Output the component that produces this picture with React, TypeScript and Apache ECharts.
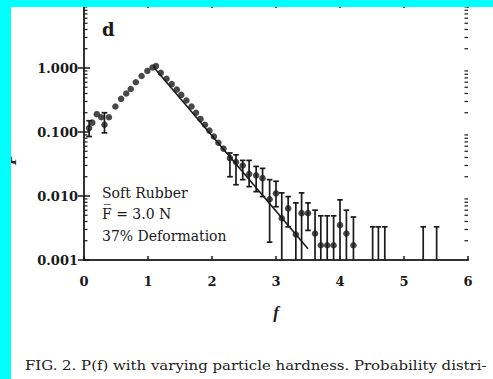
import React, { useEffect, useRef } from "react";
import * as echarts from "echarts";

// ---- data ----
const pointF = [
  0.08, 0.13, 0.2, 0.27, 0.32, 0.39, 0.49, 0.58, 0.66, 0.73, 0.81, 0.9, 0.99, 1.07, 1.125,
  1.2, 1.29, 1.37, 1.45, 1.52, 1.6, 1.68, 1.75, 1.82, 1.89, 1.96, 2.03, 2.1, 2.18,
];
const pointP = [
  0.115, 0.14, 0.19, 0.17, 0.13, 0.17, 0.25, 0.33, 0.4, 0.47, 0.6, 0.75, 0.9, 1.02, 1.07,
  0.84, 0.68, 0.56, 0.46, 0.38, 0.31, 0.25, 0.2, 0.16, 0.13, 0.105, 0.085, 0.068, 0.055,
];

// small error bars visible on the rising side
const riseErrF = [0.08, 0.32];
const riseErrLow = [0.085, 0.097];
const riseErrHigh = [0.15, 0.2];

const tailF = [2.28, 2.375, 2.48, 2.58, 2.69, 2.79, 2.9, 3.0, 3.09, 3.19, 3.31, 3.4, 3.5, 3.61, 3.7, 3.8, 3.9, 4.0, 4.1, 4.21];
const tailP = [0.039, 0.034, 0.03, 0.022, 0.021, 0.019, 0.0089, 0.011, 0.0045, 0.0064, 0.0025, 0.0054, 0.0054, 0.0026, 0.0017, 0.0017, 0.0017, 0.0035, 0.0026, 0.0017];
const tailLow = [0.02, 0.015, 0.018, 0.014, 0.0117, 0.0098, 0.0019, 0.0068, 0.0005, 0.0033, 0.0005, 0.0005, 0.0029, 0.0005, 0.0005, 0.0005, 0.0005, 0.0005, 0.0005, 0.0005];
const tailHigh = [0.047, 0.044, 0.036, 0.036, 0.029, 0.027, 0.018, 0.017, 0.0112, 0.0098, 0.0078, 0.0112, 0.0078, 0.006, 0.0049, 0.0049, 0.0049, 0.0087, 0.006, 0.0047];

// error bars whose centre lies below the axis
const emptyF = [4.51, 4.6, 4.7, 5.3, 5.51];
const emptyLow = [0.0005, 0.0005, 0.0005, 0.0005, 0.0005];
const emptyHigh = [0.0033, 0.0033, 0.0033, 0.0033, 0.0033];

// exponential fit line end points
const fitF = [1.1, 3.5];
const fitP = [1.0, 0.0015];

const xTicks = [0, 1, 2, 3, 4, 5, 6];
const yMin = 0.001;
const yMax = 10;

const minorTicks: number[] = [];
for (let e = -3; e < 1; e++) {
  for (let m = 2; m <= 9; m++) minorTicks.push(m * Math.pow(10, e));
}

const INK = "#1a1a1a";
const SERIF = "DejaVu Serif";

export default function App() {
  const ref = useRef<HTMLDivElement>(null);
  useEffect(() => {
    if (!ref.current) return;
    const chart = echarts.init(ref.current, undefined, { renderer: "svg" });

    const clamp = (v: number) => Math.min(yMax, Math.max(yMin, v));

    const errData = [
      ...riseErrF.map((f, i) => [f, riseErrLow[i], riseErrHigh[i]]),
      ...tailF.map((f, i) => [f, tailLow[i], tailHigh[i]]),
      ...emptyF.map((f, i) => [f, emptyLow[i], emptyHigh[i]]),
    ];

    const option: any = {
      animation: false,
      backgroundColor: "#ffffff",
      grid: { left: 84, top: 4, right: 25, bottom: 119, containLabel: false },
      xAxis: [
        {
          type: "value",
          min: xTicks[0],
          max: xTicks[xTicks.length - 1],
          interval: 1,
          position: "bottom",
          axisLine: { show: true, lineStyle: { color: "#333", width: 2 } },
          axisTick: { show: true, inside: true, length: 4, lineStyle: { color: INK, width: 1.5 } },
          axisLabel: { margin: 15, fontFamily: SERIF, fontSize: 13, fontWeight: "bold", color: INK },
          splitLine: { show: false },
          name: "f",
          nameLocation: "middle",
          nameGap: 44,
          nameTextStyle: { fontFamily: "Liberation Serif", fontStyle: "italic", fontWeight: "bold", fontSize: 17, color: INK },
        },
        {
          type: "value",
          min: xTicks[0],
          max: xTicks[xTicks.length - 1],
          interval: 1,
          position: "top",
          axisLine: { show: true, lineStyle: { color: "#333", width: 2 } },
          axisTick: { show: true, inside: true, length: 4, lineStyle: { color: INK, width: 1.5 } },
          axisLabel: { show: false },
          splitLine: { show: false },
        },
      ],
      yAxis: [
        {
          type: "log",
          logBase: 10,
          min: yMin,
          max: yMax,
          position: "left",
          axisLine: { show: true, lineStyle: { color: "#333", width: 2 } },
          axisTick: { show: true, inside: true, length: 6, lineStyle: { color: INK, width: 1.5 } },
          axisLabel: {
            margin: 6,
            fontFamily: SERIF,
            fontSize: 13,
            fontWeight: "bold",
            color: INK,
            formatter: (v: number) => (v <= 1.0001 ? Number(v).toFixed(3) : ""),
          },
          splitLine: { show: false },
        },
        {
          type: "log",
          logBase: 10,
          min: yMin,
          max: yMax,
          position: "right",
          axisLine: { show: true, lineStyle: { color: "#333", width: 2 } },
          axisTick: { show: true, inside: true, length: 6, lineStyle: { color: INK, width: 1.5 } },
          axisLabel: { show: false },
          splitLine: { show: false },
        },
      ],
      series: [
        {
          type: "custom",
          name: "minorTicks",
          silent: true,
          data: minorTicks.map((v) => [0, v]),
          renderItem: (params: any, api: any) => {
            const v = api.value(1);
            const p = api.coord([0, v]);
            const cs = params.coordSys;
            const len = 3.5;
            return {
              type: "group",
              children: [
                { type: "line", shape: { x1: cs.x, y1: p[1], x2: cs.x + len, y2: p[1] }, style: { stroke: INK, lineWidth: 1.2 } },
                { type: "line", shape: { x1: cs.x + cs.width - len, y1: p[1], x2: cs.x + cs.width, y2: p[1] }, style: { stroke: INK, lineWidth: 1.2 } },
              ],
            };
          },
          z: 3,
        },
        {
          type: "custom",
          name: "errors",
          silent: true,
          data: errData,
          encode: { x: 0, y: [1, 2] },
          renderItem: (params: any, api: any) => {
            const x = api.value(0);
            const lo = clamp(api.value(1));
            const hi = clamp(api.value(2));
            const pHi = api.coord([x, hi]);
            const pLo = api.coord([x, lo]);
            const cap = 2.8;
            const children: any[] = [
              { type: "line", shape: { x1: pHi[0], y1: pHi[1], x2: pLo[0], y2: pLo[1] }, style: { stroke: INK, lineWidth: 1.7 } },
              { type: "line", shape: { x1: pHi[0] - cap, y1: pHi[1], x2: pHi[0] + cap, y2: pHi[1] }, style: { stroke: INK, lineWidth: 1.7 } },
            ];
            if (api.value(1) > yMin) {
              children.push({ type: "line", shape: { x1: pLo[0] - cap, y1: pLo[1], x2: pLo[0] + cap, y2: pLo[1] }, style: { stroke: INK, lineWidth: 1.7 } });
            }
            return { type: "group", children };
          },
          z: 4,
        },
        {
          type: "line",
          name: "fit",
          data: fitF.map((f, i) => [f, fitP[i]]),
          showSymbol: false,
          symbol: "none",
          lineStyle: { color: INK, width: 1.6 },
          z: 5,
        },
        {
          type: "scatter",
          name: "P(f)",
          data: [
            ...pointF.map((f, i) => [f, pointP[i]]),
            ...tailF.map((f, i) => [f, tailP[i]]),
          ],
          symbol: "circle",
          symbolSize: 6.5,
          itemStyle: { color: INK },
          z: 6,
        },
      ],
      graphic: [
        { type: "text", left: 102, top: 20, style: { text: "d", font: `bold 18px '${SERIF}'`, fill: INK }, z: 10 },
        { type: "text", left: 102, top: 186, style: { text: "Soft Rubber", font: `14px '${SERIF}'`, fill: INK }, z: 10 },
        { type: "text", left: 102, top: 207, style: { text: "F\u0305 = 3.0 N", font: `14px '${SERIF}'`, fill: INK }, z: 10 },
        { type: "text", left: 102, top: 229, style: { text: "37% Deformation", font: `14px '${SERIF}'`, fill: INK }, z: 10 },
        {
          type: "text",
          x: 25,
          y: 360,
          scaleX: 1.245,
          style: { text: "FIG. 2. P(f) with varying particle hardness. Probability distri-", font: `12px '${SERIF}'`, fill: "#222", textVerticalAlign: "top" },
          z: 10,
        },
        {
          type: "text",
          x: 19,
          y: 160,
          rotation: Math.PI / 2,
          style: { text: "P", font: "italic bold 17px 'Liberation Serif'", fill: INK, textAlign: "center", textVerticalAlign: "bottom" },
          z: 10,
        },
        { type: "rect", left: 0, top: 0, shape: { width: 11, height: 379 }, style: { fill: "#00ffff" }, z: 100 },
        { type: "rect", left: 0, top: 0, shape: { width: 493, height: 7 }, style: { fill: "#00ffff" }, z: 100 },
      ],
    };
    chart.setOption(option);
    return () => chart.dispose();
  }, []);

  return (
    <div
      ref={ref}
      style={{ position: "absolute", left: 0, top: 0, width: 493, height: 379, background: "#fff" }}
    />
  );
}
